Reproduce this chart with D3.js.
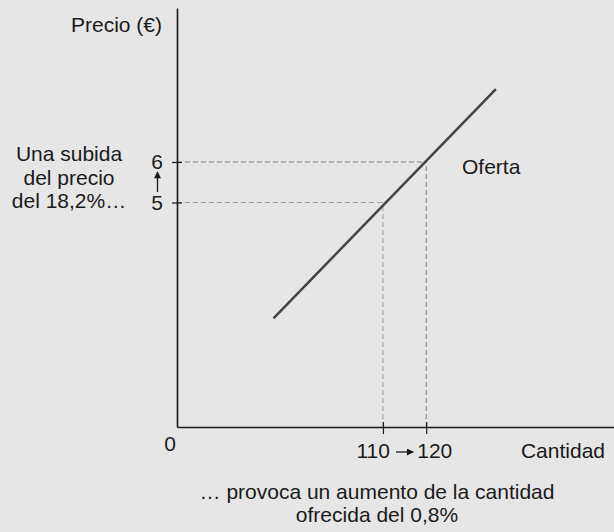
<!DOCTYPE html>
<html>
<head>
<meta charset="utf-8">
<script src="https://cdn.jsdelivr.net/npm/d3@7"></script>
<style>
    body { margin: 0; background: #e6e6e6; }
    svg { display: block; }
    text { font-family: "Liberation Sans", Arial, Helvetica, sans-serif; fill: #1a1a1a; font-size: 21px; }
</style>
</head>
<body>
<div id="chart"></div>
<script>
// values
var priceTicks = [5, 6];
var qtyTicks = [110, 120];
var supplyQty = [84.7, 136.1];
var supplyPrice = [2.14, 7.8];
var priceNote = ["Una subida", "del precio", "del 18,2%…"];
var qtyNote = ["… provoca un aumento de la cantidad", "ofrecida del 0,8%"];

function drawChart() {
    var svgWidth = 614;
    var svgHeight = 532;

    var svg = d3.select("#chart").append("svg")
        .attr("width", svgWidth)
        .attr("height", svgHeight);

    var defs = svg.append("defs");
    defs.append("marker")
        .attr("id", "head")
        .attr("viewBox", "0 0 10 10")
        .attr("refX", 9).attr("refY", 5)
        .attr("markerWidth", 8).attr("markerHeight", 7)
        .attr("markerUnits", "userSpaceOnUse")
        .attr("orient", "auto")
        .append("path")
        .attr("d", "M0,0 L10,5 L0,10 z")
        .attr("fill", "#1a1a1a");

    // schematic axes: not drawn to scale from 0
    var x = d3.scaleLinear()
        .domain([62.4, 163.4])
        .range([177, 614]);
    var y = d3.scaleLinear()
        .domain([-0.54, 9.8])
        .range([427, 8]);

    var pts = supplyQty.map(function (q, i) { return [q, supplyPrice[i]]; });
    var guides = qtyTicks.map(function (q, i) { return { q: q, p: priceTicks[i] }; });

    // dashed guides
    svg.selectAll(".hguide")
        .data(guides)
        .enter()
        .append("line")
        .attr("x1", x.range()[0])
        .attr("x2", function (d) { return x(d.q); })
        .attr("y1", function (d) { return y(d.p); })
        .attr("y2", function (d) { return y(d.p); })
        .attr("stroke", function (d, i) { return i == 0 ? "#999" : "#808080"; })
        .attr("stroke-width", 1)
        .attr("stroke-dasharray", "5,3");

    svg.selectAll(".vguide")
        .data(guides)
        .enter()
        .append("line")
        .attr("x1", function (d) { return x(d.q); })
        .attr("x2", function (d) { return x(d.q); })
        .attr("y1", y.range()[0])
        .attr("y2", function (d) { return y(d.p); })
        .attr("stroke", function (d, i) { return i == 0 ? "#999" : "#808080"; })
        .attr("stroke-width", 1)
        .attr("stroke-dasharray", "5,3");

    // supply line
    svg.append("path")
        .datum(pts)
        .attr("d", d3.line()
            .x(function (d) { return x(d[0]); })
            .y(function (d) { return y(d[1]); }))
        .attr("fill", "none")
        .attr("stroke", "#444")
        .attr("stroke-width", 2.5);

    // axes
    var xAxis = svg.append("g")
        .attr("transform", "translate(0," + y.range()[0] + ")")
        .call(d3.axisBottom(x).tickValues(qtyTicks).tickSize(7).tickSizeOuter(0).tickFormat(""));
    xAxis.select(".domain").attr("stroke", "#1a1a1a").attr("stroke-width", 1.6);
    xAxis.selectAll(".tick line").attr("y1", -5).attr("y2", 7).attr("stroke", "#1a1a1a").attr("stroke-width", 1.2);

    var yAxis = svg.append("g")
        .attr("transform", "translate(" + x.range()[0] + ",0)")
        .call(d3.axisLeft(y).tickValues(priceTicks).tickSize(5).tickSizeOuter(0).tickFormat(""));
    yAxis.select(".domain").attr("stroke", "#1a1a1a").attr("stroke-width", 1.6);
    yAxis.selectAll(".tick line").attr("x1", -5).attr("x2", 5).attr("stroke", "#1a1a1a").attr("stroke-width", 1.2);

    // tick labels
    svg.selectAll(".plabel")
        .data(priceTicks)
        .enter()
        .append("text")
        .attr("x", 163)
        .attr("y", function (d) { return y(d); })
        .attr("dy", "0.35em")
        .attr("text-anchor", "end")
        .text(function (d) { return d; });

    // arrow between 5 and 6
    svg.append("line")
        .attr("x1", 157.5).attr("x2", 157.5)
        .attr("y1", y(priceTicks[1]) + 30).attr("y2", y(priceTicks[1]) + 10)
        .attr("stroke", "#1a1a1a")
        .attr("stroke-width", 1.3)
        .attr("marker-end", "url(#head)");

    svg.append("text")
        .attr("x", x(qtyTicks[0]) + 7)
        .attr("y", 458)
        .attr("text-anchor", "end")
        .text(qtyTicks[0]);
    svg.append("text")
        .attr("x", x(qtyTicks[1]) - 9)
        .attr("y", 458)
        .attr("text-anchor", "start")
        .text(qtyTicks[1]);
    svg.append("line")
        .attr("x1", x(qtyTicks[0]) + 13).attr("x2", x(qtyTicks[1]) - 13)
        .attr("y1", 452).attr("y2", 452)
        .attr("stroke", "#1a1a1a")
        .attr("stroke-width", 1.3)
        .attr("marker-end", "url(#head)");

    svg.append("text")
        .attr("x", 170).attr("y", 451)
        .attr("text-anchor", "middle")
        .text("0");

    // axis titles
    svg.append("text")
        .attr("x", 162).attr("y", 32)
        .attr("text-anchor", "end")
        .text("Precio (€)");
    svg.append("text")
        .attr("x", 605).attr("y", 458)
        .attr("text-anchor", "end")
        .text("Cantidad");

    svg.append("text")
        .attr("x", 462).attr("y", 174)
        .text("Oferta");

    // notes
    svg.selectAll(".pnote")
        .data(priceNote)
        .enter()
        .append("text")
        .attr("x", 69)
        .attr("y", function (d, i) { return 161 + i * 23.5; })
        .attr("text-anchor", "middle")
        .text(function (d) { return d; });

    svg.selectAll(".qnote")
        .data(qtyNote)
        .enter()
        .append("text")
        .attr("x", 377)
        .attr("y", function (d, i) { return 499 + i * 23; })
        .attr("text-anchor", "middle")
        .text(function (d) { return d; });
}

drawChart();
</script>
</body>
</html>
